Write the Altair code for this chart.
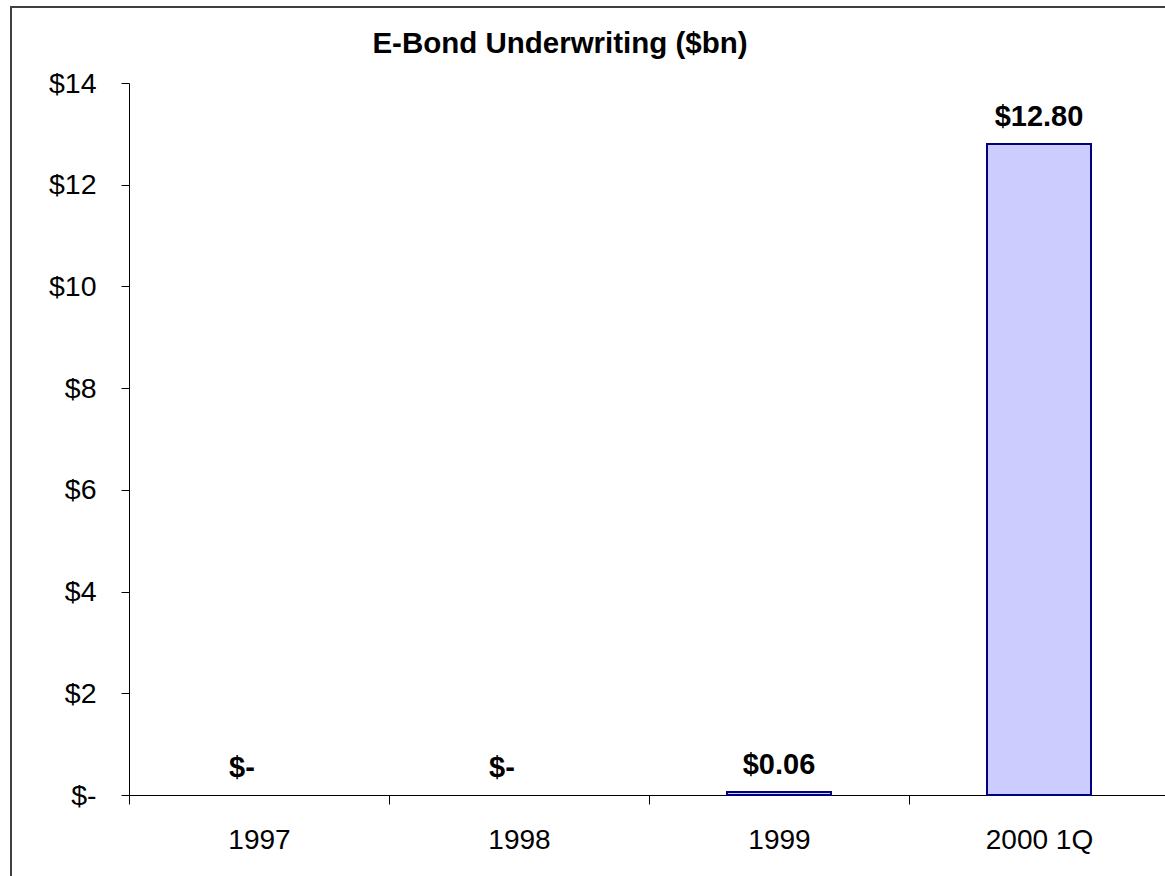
import altair as alt
import pandas as pd

# Data
categories = ["1997", "1998", "1999", "2000 1Q"]
values = [0.0, 0.0, 0.06, 12.80]
title_text = "E-Bond Underwriting ($bn)"
y_ticks = [0, 2, 4, 6, 8, 10, 12, 14]

df = pd.DataFrame({"category": categories, "value": values})

FONT = "Liberation Sans"

x_scale = alt.Scale(domain=categories, range=[0, 1040], paddingInner=0, paddingOuter=0)

x_enc = alt.X(
    "category:N",
    sort=categories,
    scale=x_scale,
    axis=alt.Axis(
        title=None,
        tickBand="extent",
        tickSize=9,
        tickColor="#000000",
        domainColor="#000000",
        labelAngle=0,
        labelFont=FONT,
        labelFontSize=28,
        labelColor="#000000",
        labelPadding=22,
        labelBaseline="top",
    ),
)
y_enc = alt.Y(
    "value:Q",
    scale=alt.Scale(domain=[0, 14], nice=False),
    axis=alt.Axis(
        title=None,
        values=y_ticks,
        grid=False,
        tickSize=8,
        tickColor="#000000",
        domainColor="#000000",
        labelFont=FONT,
        labelFontSize=28.5,
        labelColor="#000000",
        labelPadding=25,
        labelExpr="datum.value == 0 ? '$-' : '$' + datum.value",
    ),
)

base = alt.Chart(df)

bars = (
    base.transform_filter("datum.value > 0")
    .mark_bar(fill="#CCCCFF", stroke="#000080", strokeWidth=2,
              width=alt.RelativeBandSize(0.4))
    .encode(x=x_enc, y=y_enc)
)

labels_nonzero = (
    base.transform_filter("datum.value > 0")
    .transform_calculate(label="'$' + format(datum.value, '.2f')")
    .mark_text(font=FONT, fontSize=29, fontWeight="bold", baseline="alphabetic",
               dy=-18, color="#000000")
    .encode(x=alt.X("category:N", sort=categories, scale=x_scale),
            y="value:Q", text="label:N")
)

labels_zero = (
    base.transform_filter("datum.value == 0")
    .transform_calculate(label="'$-'")
    .mark_text(font=FONT, fontSize=29, fontWeight="bold", baseline="alphabetic",
               dy=-18, dx=-17, color="#000000")
    .encode(x=alt.X("category:N", sort=categories, scale=x_scale),
            y="value:Q", text="label:N")
)

title = alt.Chart(pd.DataFrame({"t": [title_text]})).mark_text(
    font=FONT, fontSize=29.5, fontWeight="bold", baseline="alphabetic",
    align="center", color="#000000"
).encode(x=alt.value(431), y=alt.value(-30), text="t:N")

frame = alt.Chart(pd.DataFrame({"t": [title_text]})).mark_rect(
    fill=None, filled=False, stroke="#404040", strokeWidth=2
).encode(x=alt.value(-118), x2=alt.value(1100), y=alt.value(-76), y2=alt.value(900))

chart = (
    alt.layer(frame, bars, labels_nonzero, labels_zero, title)
    .properties(
        width=1036,
        height=712,
        autosize=alt.AutoSizeParams(type="none"),
        padding={"left": 129, "top": 83, "right": 0, "bottom": 81},
        background="#FFFFFF",
    )
    .configure_view(stroke=None)
)

chart.save("out.html", embed_options={"renderer": "svg", "actions": False})
